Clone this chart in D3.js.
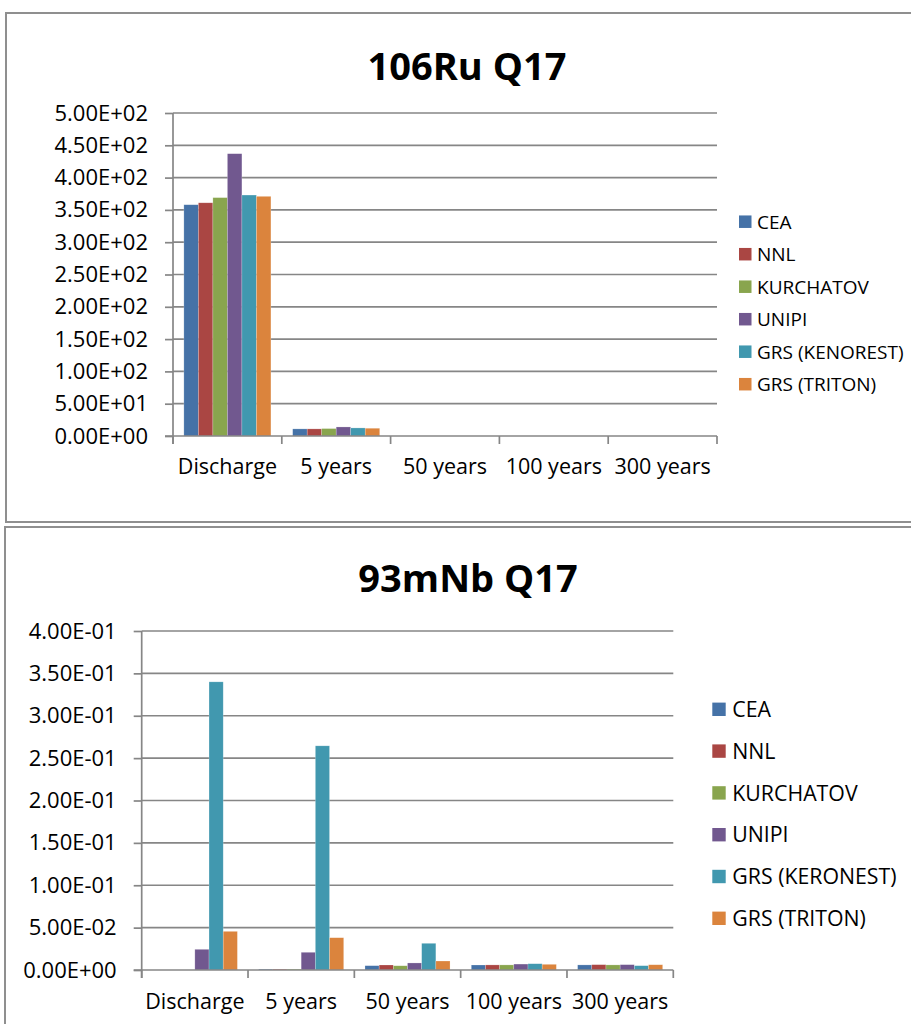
<!DOCTYPE html>
<html>
<head>
<meta charset="utf-8">
<script src="https://cdn.jsdelivr.net/npm/d3@7"></script>
<style>
  body { margin: 0; background: #fff; }
  svg text { font-family: "Open Sans", "Noto Sans", sans-serif; fill: #000; }
</style>
</head>
<body>
<div id="chart"></div>
<script>
// categories (x axis)
var categories = ["Discharge", "5 years", "50 years", "100 years", "300 years"];
var colors = ["#4572A7", "#AA4643", "#89A54E", "#71588F", "#4198AF", "#DB843D"];

//----------106Ru Q17----------
var ruTitle = "106Ru Q17";
var ruSeries = ["CEA", "NNL", "KURCHATOV", "UNIPI", "GRS (KENOREST)", "GRS (TRITON)"];
var ruCEA = [358, 11, 0, 0, 0];
var ruNNL = [361, 11, 0, 0, 0];
var ruKURCHATOV = [369, 11.5, 0, 0, 0];
var ruUNIPI = [437, 14, 0, 0, 0];
var ruKENOREST = [373, 12.5, 0, 0, 0];
var ruTRITON = [371, 12, 0, 0, 0];
var ruTicks = [0, 50, 100, 150, 200, 250, 300, 350, 400, 450, 500];

//----------93mNb Q17----------
var nbTitle = "93mNb Q17";
var nbSeries = ["CEA", "NNL", "KURCHATOV", "UNIPI", "GRS (KERONEST)", "GRS (TRITON)"];
var nbCEA = [0, 0.001, 0.0051, 0.0059, 0.0060];
var nbNNL = [0, 0.001, 0.0059, 0.0060, 0.0063];
var nbKURCHATOV = [0, 0.001, 0.0050, 0.0060, 0.0060];
var nbUNIPI = [0.0244, 0.0209, 0.0083, 0.0070, 0.0063];
var nbKERONEST = [0.340, 0.2645, 0.0315, 0.0074, 0.0051];
var nbTRITON = [0.0456, 0.0381, 0.0106, 0.0067, 0.0062];
var nbTicks = [0, 0.05, 0.1, 0.15, 0.2, 0.25, 0.3, 0.35, 0.4];

var svg = d3.select("#chart").append("svg")
    .attr("width", 911)
    .attr("height", 1024);

// Excel style 5.00E+02
function sci(v) {
    var s = d3.format(".2e")(v).split("e");
    var exp = +s[1];
    return s[0] + "E" + (exp < 0 ? "-" : "+") + d3.format("02d")(Math.abs(exp));
}

function drawChart(opt) {
    var g = svg.append("g");

    // frame
    g.append("rect")
        .attr("x", opt.frame[0]).attr("y", opt.frame[1])
        .attr("width", opt.frame[2]).attr("height", opt.frame[3])
        .attr("fill", "#fff").attr("stroke", "#8f8f8f").attr("stroke-width", 2);

    g.append("text")
        .attr("x", opt.titleX).attr("y", opt.titleY)
        .attr("text-anchor", "middle")
        .style("font-size", "38px").style("font-weight", "bold")
        .text(opt.title);

    var x = d3.scaleBand().domain(categories).range([opt.left, opt.right]);
    var xs = d3.scaleBand().domain(opt.series).range([0, x.bandwidth()])
        .paddingInner(0).paddingOuter(0.75);
    var y = d3.scaleLinear().domain(opt.domain).range([opt.bottom, opt.top]);

    // gridlines
    g.append("g").selectAll("line").data(opt.ticks.slice(1)).enter().append("line")
        .attr("x1", opt.left).attr("x2", opt.right)
        .attr("y1", function (d) { return y(d); }).attr("y2", function (d) { return y(d); })
        .attr("stroke", "#868686").attr("stroke-width", 1.7);

    // bars
    var groups = g.append("g").selectAll("g").data(opt.series).enter().append("g")
        .attr("fill", function (d, i) { return colors[i]; });
    groups.selectAll("rect")
        .data(function (s, i) { return opt.values[i].map(function (v, j) { return { s: s, c: categories[j], v: v }; }); })
        .enter().append("rect")
        .attr("x", function (d) { return x(d.c) + xs(d.s); })
        .attr("width", xs.bandwidth())
        .attr("y", function (d) { return y(d.v); })
        .attr("height", function (d) { return opt.bottom - y(d.v); })
        .attr("stroke", "rgba(255,255,255,0.35)").attr("stroke-width", 0.6);

    // y axis
    var yAxis = d3.axisLeft(y).tickValues(opt.ticks).tickFormat(sci)
        .tickSize(8).tickPadding(17);
    var ya = g.append("g").attr("transform", "translate(" + opt.left + ",0)").call(yAxis);
    ya.selectAll("text").style("font-size", "22px");

    // x axis: ticks at category boundaries
    var xAxis = d3.axisBottom(x).tickSize(0).tickPadding(opt.xLabelPad);
    var xa = g.append("g").attr("transform", "translate(0," + opt.bottom + ")").call(xAxis);
    xa.selectAll("text").style("font-size", "21.5px");
    xa.selectAll(".tick line").remove();
    var bounds = categories.map(function (c) { return x(c); }).concat([opt.right]);
    xa.selectAll(".bound").data(bounds).enter().append("line")
        .attr("class", "bound")
        .attr("x1", function (d) { return d; }).attr("x2", function (d) { return d; })
        .attr("y1", 0).attr("y2", 8);

    g.selectAll(".domain, .tick line, .bound")
        .attr("stroke", "#868686").attr("stroke-width", 1.7);
    ya.select(".domain").attr("d", "M0," + opt.top + "V" + (opt.bottom + 8));
    xa.select(".domain").attr("d", "M" + (opt.left - 8) + ",0H" + opt.right);

    // legend
    var leg = g.append("g").selectAll("g").data(opt.series).enter().append("g")
        .attr("transform", function (d, i) { return "translate(" + opt.legX + "," + (opt.legY + i * opt.legStep) + ")"; });
    leg.append("rect")
        .attr("x", 0).attr("y", -opt.legBox / 2)
        .attr("width", opt.legBox).attr("height", opt.legBox)
        .attr("fill", function (d, i) { return colors[i]; });
    leg.append("text")
        .attr("x", opt.legText).attr("dy", "0.36em")
        .style("font-size", opt.legFont + "px")
        .text(function (d) { return d; });
}

drawChart({
    title: ruTitle, titleX: 467, titleY: 80,
    frame: [6, 13, 1000, 509],
    series: ruSeries,
    values: [ruCEA, ruNNL, ruKURCHATOV, ruUNIPI, ruKENOREST, ruTRITON],
    domain: [0, 500], ticks: ruTicks,
    left: 173, right: 717, top: 113, bottom: 436,
    xLabelPad: 23,
    legX: 739, legY: 221.7, legStep: 32.5, legBox: 12.5, legText: 18, legFont: 19
});

drawChart({
    title: nbTitle, titleX: 468, titleY: 592,
    frame: [5, 527, 1000, 600],
    series: nbSeries,
    values: [nbCEA, nbNNL, nbKURCHATOV, nbUNIPI, nbKERONEST, nbTRITON],
    domain: [0, 0.4], ticks: nbTicks,
    left: 141.7, right: 673.3, top: 631, bottom: 970,
    xLabelPad: 24,
    legX: 712.3, legY: 709.3, legStep: 41.8, legBox: 13.4, legText: 20, legFont: 21.3
});
</script>
</body>
</html>
